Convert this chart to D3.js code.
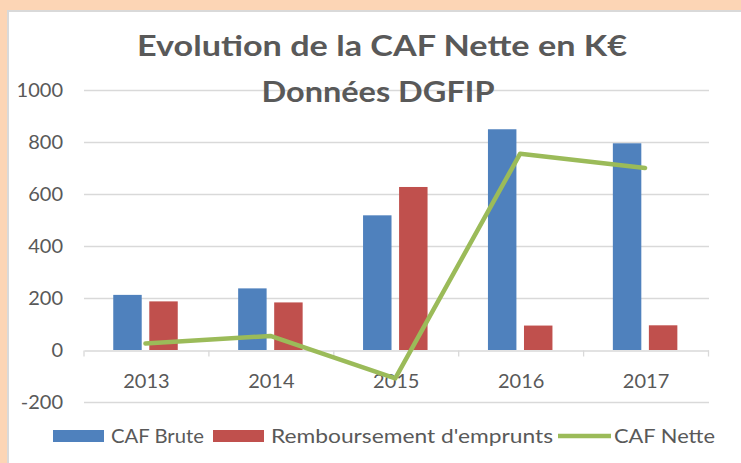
<!DOCTYPE html>
<html>
<head>
<meta charset="utf-8">
<script src="https://cdn.jsdelivr.net/npm/d3@7"></script>
<style>
  html, body { margin: 0; padding: 0; background: #fcd5b5; }
  svg { display: block; }
</style>
</head>
<body>
<svg id="chart"></svg>
<script>
// data
const years = ['2013', '2014', '2015', '2016', '2017']
const cafBrute = [212, 237, 518, 849, 795]
const remboursement = [187, 183, 627, 94, 95]
const cafNette = [25, 54, -109, 755, 700]
const yTicks = [-200, 0, 200, 400, 600, 800, 1000]
const seriesNames = ['CAF Brute', "Remboursement d'emprunts", 'CAF Nette']
const titleLines = ['Evolution de la CAF Nette en K€', 'Données DGFIP']

const width = 741
const height = 463
const margin = {top: 90, right: 32, bottom: 61, left: 84}
const font = "Lato, 'Open Sans', sans-serif"
const textColor = '#595959'
const gridColor = '#d9d9d9'
const colors = ['#4f81bd', '#c0504d', '#9bbb59']

const svg = d3.select('#chart')
    .attr('width', width)
    .attr('height', height)

// orange frame, grey edge, white chart area
svg.append('rect')
    .attr('x', 0).attr('y', 0)
    .attr('width', width).attr('height', height)
    .attr('fill', '#fcd5b5')
svg.append('rect')
    .attr('x', 7).attr('y', 10)
    .attr('width', width - 7).attr('height', height - 10)
    .attr('fill', '#d9d9d9')
svg.append('rect')
    .attr('x', 9).attr('y', 12)
    .attr('width', width - 9).attr('height', height - 12)
    .attr('fill', 'white')

const x = d3.scaleBand()
    .domain(years)
    .range([margin.left, width - margin.right - 0.5])
    .padding(0)

const xSub = d3.scaleBand()
    .domain(['brute', 'remb'])
    .range([-33.2, 31.3])
    .paddingInner(0.21)

const y = d3.scaleLinear()
    .domain([-200, 1000])
    .range([height - margin.bottom, margin.top])

// gridlines
svg.append('g')
    .selectAll('line')
    .data(yTicks.filter(d => d !== 0))
    .join('line')
        .attr('x1', margin.left)
        .attr('x2', width - margin.right)
        .attr('y1', d => Math.round(y(d)) + 0.5)
        .attr('y2', d => Math.round(y(d)) + 0.5)
        .attr('stroke', gridColor)
        .attr('stroke-width', 1.3)

// y axis labels
const yAxis = g => g
    .attr('transform', `translate(${margin.left},0)`)
    .call(d3.axisLeft(y).tickValues(yTicks).tickSize(0).tickPadding(21)
        .tickFormat(d => String(d)))
    .call(g => g.select('.domain').remove())
    .call(g => g.selectAll('text')
        .attr('fill', textColor)
        .style('font-family', font)
        .style('font-size', '20px'))
svg.append('g').call(yAxis)

// bars
const bars = svg.append('g')
bars.selectAll('rect.brute')
    .data(years)
    .join('rect')
        .attr('class', 'brute')
        .attr('fill', colors[0])
        .attr('x', d => x(d) + x.bandwidth() / 2 + xSub('brute'))
        .attr('width', xSub.bandwidth())
        .attr('y', (d, i) => y(Math.max(0, cafBrute[i])))
        .attr('height', (d, i) => Math.abs(y(0) - y(cafBrute[i])))
bars.selectAll('rect.remb')
    .data(years)
    .join('rect')
        .attr('class', 'remb')
        .attr('fill', colors[1])
        .attr('x', d => x(d) + x.bandwidth() / 2 + xSub('remb'))
        .attr('width', xSub.bandwidth())
        .attr('y', (d, i) => y(Math.max(0, remboursement[i])))
        .attr('height', (d, i) => Math.abs(y(0) - y(remboursement[i])))

// x axis at zero
const xAxis = g => g
    .attr('transform', `translate(0,${Math.round(y(0)) + 0.5})`)
    .call(d3.axisBottom(x).tickSize(0).tickPadding(23))
    .call(g => g.select('.domain').attr('stroke', gridColor).attr('stroke-width', 1.3))
    .call(g => g.selectAll('text')
        .attr('fill', textColor)
        .style('font-family', font)
        .style('font-size', '20px'))
    .call(g => g.selectAll('.sep')
        .data(years.concat(['end']))
        .join('line')
            .attr('class', 'sep')
            .attr('x1', (d, i) => i < years.length ? x(d) : x.range()[1])
            .attr('x2', (d, i) => i < years.length ? x(d) : x.range()[1])
            .attr('y1', 0)
            .attr('y2', 6)
            .attr('stroke', gridColor)
            .attr('stroke-width', 1.3))
svg.append('g').call(xAxis)

// CAF Nette line
const line = d3.line()
    .x((d, i) => x(years[i]) + x.bandwidth() / 2 - 1)
    .y(d => y(d))
svg.append('path')
    .datum(cafNette)
    .attr('d', line)
    .attr('fill', 'none')
    .attr('stroke', colors[2])
    .attr('stroke-width', 4.5)
    .attr('stroke-linejoin', 'round')
    .attr('stroke-linecap', 'round')

// title
svg.append('g')
    .selectAll('text')
    .data(titleLines)
    .join('text')
        .attr('x', (d, i) => i === 0 ? 382 : 378)
        .attr('y', (d, i) => i === 0 ? 56 : 102)
        .attr('text-anchor', 'middle')
        .attr('fill', textColor)
        .style('font-family', font)
        .style('font-weight', 'bold')
        .style('font-size', '29px')
        .attr('textLength', (d, i) => i === 0 ? 490 : 233)
        .attr('lengthAdjust', 'spacingAndGlyphs')
        .text(d => d)

// legend
const legend = svg.append('g')
const legendTextWidth = [93, 282, 101]
const legendGap = [9, 5, 0]
let lx = 53
const legendY = 436
seriesNames.forEach((name, i) => {
    if (i < 2) {
        legend.append('rect')
            .attr('x', lx).attr('y', legendY - 6)
            .attr('width', 51).attr('height', 12)
            .attr('fill', colors[i])
    } else {
        legend.append('line')
            .attr('x1', lx).attr('x2', lx + 53)
            .attr('y1', legendY).attr('y2', legendY)
            .attr('stroke', colors[i])
            .attr('stroke-width', 4.5)
    }
    lx += i < 2 ? 58 : 56
    legend.append('text')
        .attr('x', lx)
        .attr('y', legendY + 7)
        .attr('fill', textColor)
        .style('font-family', font)
        .style('font-size', '20px')
        .attr('textLength', legendTextWidth[i])
        .attr('lengthAdjust', 'spacingAndGlyphs')
        .text(name)
    lx += legendTextWidth[i] + legendGap[i]
})
</script>
</body>
</html>
